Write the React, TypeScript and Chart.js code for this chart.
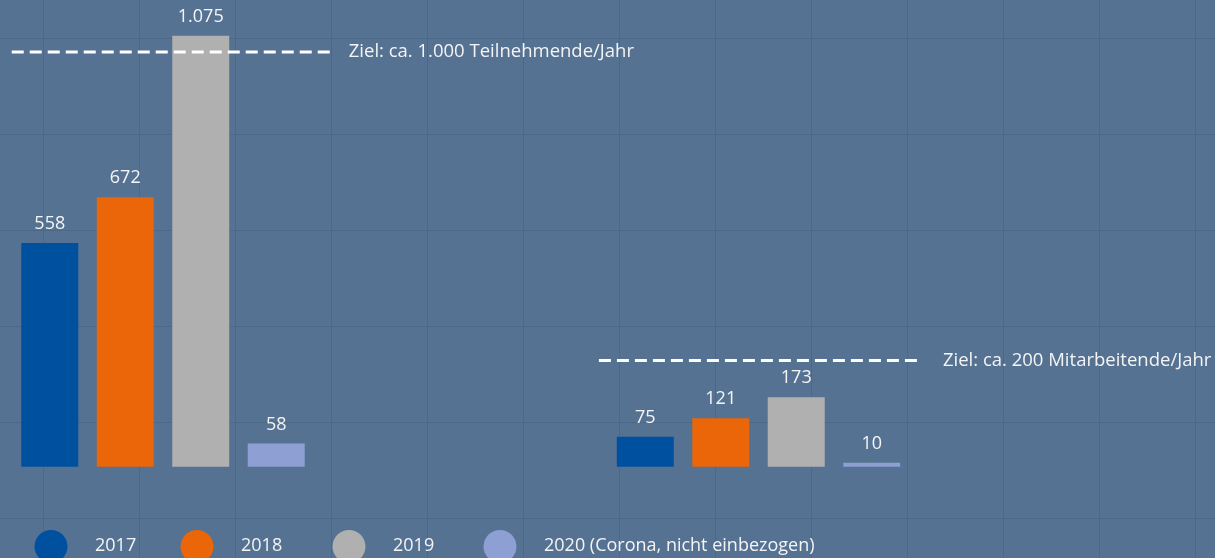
import React, { useEffect, useRef } from "react";
import { Chart, registerables } from "chart.js";

Chart.register(...registerables);

const categories = ["Teilnehmende", "Mitarbeitende"];
const seriesNames = ["2017", "2018", "2019", "2020 (Corona, nicht einbezogen)"];
const values2017 = [558, 75];
const values2018 = [672, 121];
const values2019 = [1075, 173];
const values2020 = [58, 10];
const seriesColors = ["#0050a0", "#eb6608", "#b0b0b0", "#8e9fd3"];

// goal lines (level), x-extent in category units
const goalLevels = [1034, 265];
const goalStart = [-0.254, 0.732];
const goalEnd = [0.28, 1.266];
const goalLabels = ["Ziel: ca. 1.000 Teilnehmende/Jahr", "Ziel: ca. 200 Mitarbeitende/Jahr"];
const goalLabelGap = [19, 26];

// legend layout
const legendX = [51, 197, 349, 500];

const BG = "#557293";
const GRID = "#4c6888";
const FONT = "'Open Sans', 'Noto Sans', sans-serif";
const fmt = new Intl.NumberFormat("de-DE");

const bgPlugin = {
  id: "bgGrid",
  beforeDraw(chart: any) {
    const { ctx, width, height } = chart;
    ctx.save();
    ctx.fillStyle = BG;
    ctx.fillRect(0, 0, width, height);
    ctx.strokeStyle = GRID;
    ctx.lineWidth = 1;
    ctx.beginPath();
    for (let x = 43; x < width; x += 96) {
      ctx.moveTo(x + 0.5, 0);
      ctx.lineTo(x + 0.5, height);
    }
    for (let y = 38; y < height; y += 96) {
      ctx.moveTo(0, y + 0.5);
      ctx.lineTo(width, y + 0.5);
    }
    ctx.stroke();
    ctx.restore();
  },
};

const overlayPlugin = {
  id: "overlay",
  afterDatasetsDraw(chart: any) {
    const { ctx } = chart;
    const xs = chart.scales.x;
    const ys = chart.scales.y;
    ctx.save();
    // value labels
    ctx.fillStyle = "#f4f4f4";
    ctx.font = `18px ${FONT}`;
    ctx.textAlign = "center";
    ctx.textBaseline = "middle";
    chart.data.datasets.forEach((ds: any, di: number) => {
      const meta = chart.getDatasetMeta(di);
      meta.data.forEach((el: any, i: number) => {
        ctx.fillText(fmt.format(ds.data[i]), el.x, el.y - 19);
      });
    });
    // goal lines
    goalLevels.forEach((lvl, i) => {
      const y = ys.getPixelForValue(lvl);
      const x1 = xs.getPixelForValue(goalStart[i]);
      const x2 = xs.getPixelForValue(goalEnd[i]);
      ctx.strokeStyle = "#ffffff";
      ctx.lineWidth = 3;
      ctx.setLineDash([12, 6]);
      ctx.beginPath();
      ctx.moveTo(x1, y);
      ctx.lineTo(x2, y);
      ctx.stroke();
      ctx.setLineDash([]);
      ctx.textAlign = "left";
      ctx.fillStyle = "#f4f4f4";
      ctx.font = `18.5px ${FONT}`;
      ctx.fillText(goalLabels[i], x2 + goalLabelGap[i], y);
    });
    // legend
    ctx.font = `18px ${FONT}`;
    chart.data.datasets.forEach((ds: any, di: number) => {
      const cx = legendX[di];
      const cy = 546.5;
      ctx.fillStyle = ds.backgroundColor;
      ctx.beginPath();
      ctx.arc(cx, cy, 16.5, 0, Math.PI * 2);
      ctx.fill();
      ctx.fillStyle = "#f4f4f4";
      ctx.textAlign = "left";
      ctx.fillText(ds.label, cx + 44, 546);
    });
    ctx.restore();
  },
};

export default function App() {
  const ref = useRef<HTMLCanvasElement>(null);
  useEffect(() => {
    if (!ref.current) return;
    const seriesValues = [values2017, values2018, values2019, values2020];
    const chart = new Chart(ref.current, {
      type: "bar",
      data: {
        labels: categories,
        datasets: seriesNames.map((name, i) => ({
          label: name,
          data: seriesValues[i],
          backgroundColor: seriesColors[i],
          borderWidth: 0,
          categoryPercentage: 0.507,
          barPercentage: 0.755,
          clip: false as any,
        })),
      },
      options: {
        animation: false,
        responsive: false,
        maintainAspectRatio: false,
        layout: { padding: { left: 163, right: 456.5, top: 0, bottom: 91.3 } },
        plugins: { legend: { display: false }, tooltip: { enabled: false } },
        scales: {
          x: { type: "category", offset: false, display: false, grid: { display: false } },
          y: { min: 0, max: 1164, display: false, grid: { display: false } },
        },
      },
      plugins: [bgPlugin, overlayPlugin],
    });
    return () => chart.destroy();
  }, []);
  return (
    <div style={{ position: "fixed", left: 0, top: 0, width: 1215, height: 558 }}>
      <canvas ref={ref} width={1215} height={558} style={{ width: 1215, height: 558 }} />
    </div>
  );
}
